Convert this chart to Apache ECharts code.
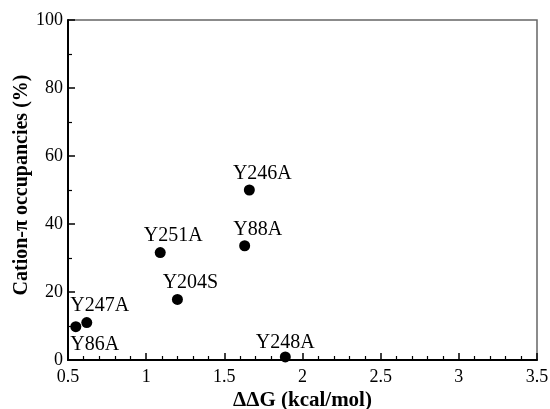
<!DOCTYPE html>
<html>
<head>
<meta charset="utf-8">
<script src="https://cdn.jsdelivr.net/npm/echarts@6/dist/echarts.min.js"></script>
<style>html,body{margin:0;padding:0;background:#fff}#c{width:550px;height:409px}</style>
</head>
<body>
<div id="c"></div>
<script>
const names = ['Y86A', 'Y247A', 'Y204S', 'Y251A', 'Y88A', 'Y246A', 'Y248A'];
const ddG = [0.55, 0.62, 1.20, 1.09, 1.63, 1.66, 1.89];
const occupancy = [9.8, 11.0, 17.8, 31.6, 33.6, 50.0, 0.9];

const labelStyle = {
  'Y86A': {position: 'bottom', offset: [19, -2]},
  'Y247A': {position: 'top', offset: [13, 4]},
  'Y204S': {position: 'top', offset: [13, 4]},
  'Y251A': {position: 'top', offset: [13, 4]},
  'Y88A': {position: 'top', offset: [13, 4]},
  'Y246A': {position: 'top', offset: [13, 4]},
  'Y248A': {position: 'top', offset: [0, 6]}
};

const font = 'Liberation Serif';
const chart = echarts.init(document.getElementById('c'), null, {renderer: 'canvas'});
chart.setOption({
  animation: false,
  backgroundColor: '#fff',
  grid: {left: 68, right: 13, top: 20, bottom: 49, outerBoundsMode: 'none', containLabel: false,
         show: true, borderColor: '#666', borderWidth: 1.5},
  xAxis: {
    type: 'value', min: 0.5, max: 3.5, interval: 0.5,
    name: 'ΔΔG (kcal/mol)', nameLocation: 'middle', nameGap: 30, nameMoveOverlap: false,
    nameTextStyle: {fontFamily: font, fontWeight: 'bold', fontSize: 21, color: '#000'},
    axisLine: {show: true, lineStyle: {color: '#000', width: 2}},
    axisTick: {show: true, inside: true, length: 7, lineStyle: {color: '#000', width: 1.5}},
    minorTick: {show: true, splitNumber: 5, length: 4, lineStyle: {color: '#000', width: 1.2}},
    axisLabel: {fontFamily: font, fontSize: 18, color: '#000', margin: 8},
    splitLine: {show: false}
  },
  yAxis: {
    type: 'value', min: 0, max: 100, interval: 20,
    name: 'Cation-π occupancies (%)', nameLocation: 'middle', nameGap: 36, nameRotate: 90, nameMoveOverlap: false,
    nameTextStyle: {fontFamily: font, fontWeight: 'bold', fontSize: 20, color: '#000', padding: [0, 0, 0, 10]},
    axisLine: {show: true, lineStyle: {color: '#000', width: 2}},
    axisTick: {show: true, inside: true, length: 7, lineStyle: {color: '#000', width: 1.5}},
    minorTick: {show: true, splitNumber: 2, length: 4, lineStyle: {color: '#000', width: 1.2}},
    axisLabel: {fontFamily: font, fontSize: 18, color: '#000', margin: 5},
    splitLine: {show: false}
  },
  series: [{
    type: 'scatter',
    symbol: 'circle',
    symbolSize: 11,
    itemStyle: {color: '#000', opacity: 1},
    data: names.map((n, i) => ({
      name: n,
      value: [ddG[i], occupancy[i]],
      label: Object.assign({show: true, formatter: n, fontFamily: font, fontSize: 20, color: '#000'}, labelStyle[n])
    }))
  }]
});
</script>
</body>
</html>
